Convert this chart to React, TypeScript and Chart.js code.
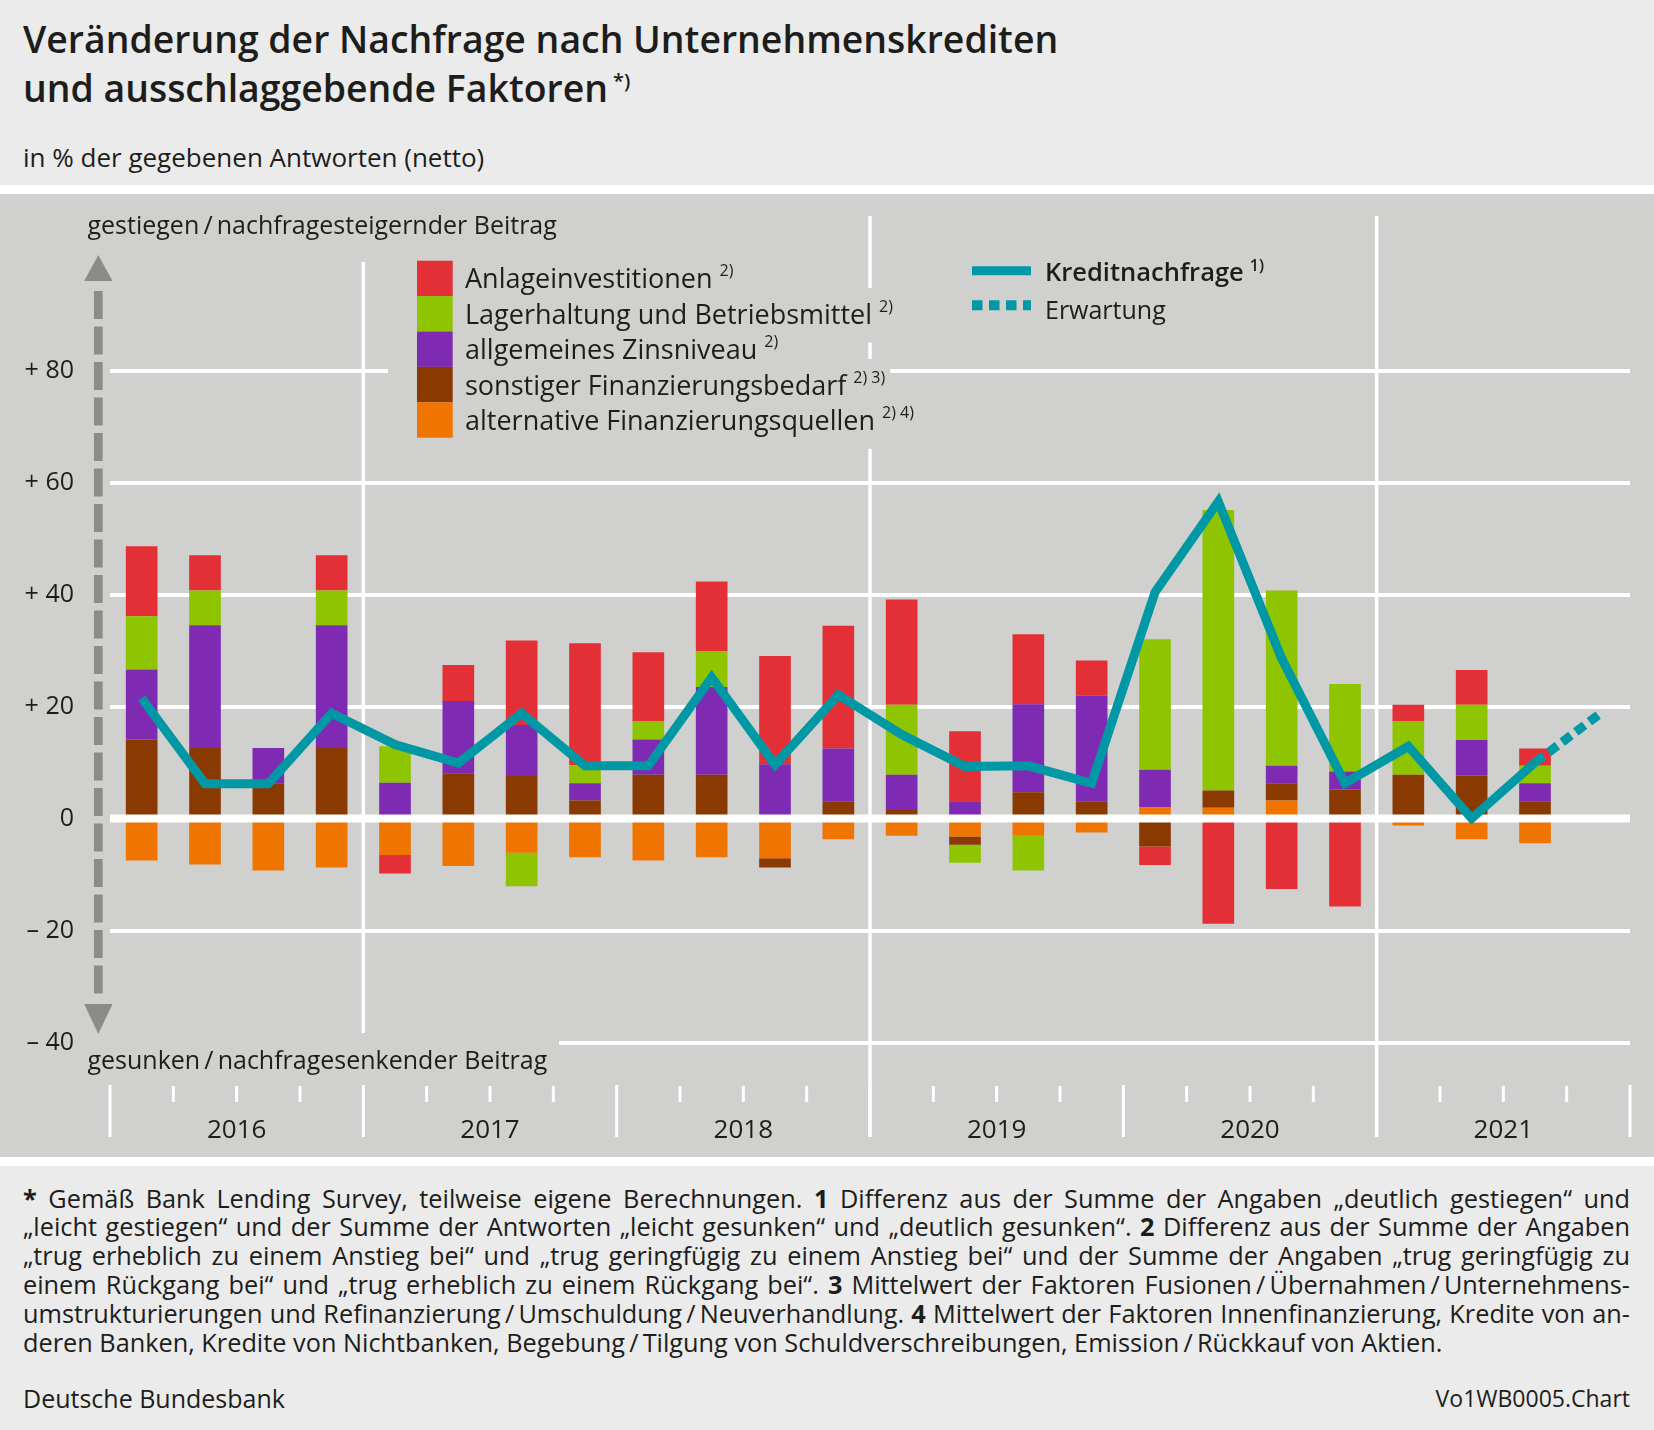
import React, { useEffect, useRef } from 'react';
import { Chart, registerables } from 'chart.js';

Chart.register(...registerables);

// ---------- data ----------
const quarters = [
  '2016 Q1', '2016 Q2', '2016 Q3', '2016 Q4',
  '2017 Q1', '2017 Q2', '2017 Q3', '2017 Q4',
  '2018 Q1', '2018 Q2', '2018 Q3', '2018 Q4',
  '2019 Q1', '2019 Q2', '2019 Q3', '2019 Q4',
  '2020 Q1', '2020 Q2', '2020 Q3', '2020 Q4',
  '2021 Q1', '2021 Q2', '2021 Q3', '2021 Q4',
];
const years = ['2016', '2017', '2018', '2019', '2020', '2021'];
const yTickValues = [-40, -20, 0, 20, 40, 60, 80];

const seriesNames = [
  'alternative Finanzierungsquellen',
  'sonstiger Finanzierungsbedarf',
  'allgemeines Zinsniveau',
  'Lagerhaltung und Betriebsmittel',
  'Anlageinvestitionen',
];
const seriesNotes = ['2) 4)', '2) 3)', '2)', '2)', '2)'];
const lineNames = ['Kreditnachfrage', 'Erwartung'];

const alternativeQuellen = [-7.5, -8.2, -9.3, -8.75, -6.5, -8.5, -6.1, -6.9, -7.5, -6.9, -7.1, -3.7, -3.1, -3.2, -3.1, -2.5, 2.0, 1.9, 3.2, 0, -1.25, -3.7, -4.4, null];
const sonstigerBedarf = [14.1, 12.6, 6.3, 12.6, 0, 8.1, 7.6, 3.2, 7.8, 7.8, -1.65, 3.1, 1.5, -1.5, 4.7, 3.1, -5.0, 3.1, 3.1, 5.2, 7.8, 7.7, 3.1, null];
const zinsniveau = [12.5, 21.9, 6.3, 21.9, 6.4, 12.9, 9.1, 3.1, 6.3, 15.7, 9.7, 9.4, 6.3, 3.1, 15.7, 18.8, 6.7, 0, 3.1, 3.2, 0, 6.3, 3.2, null];
const lagerhaltung = [9.5, 6.2, 0, 6.2, 6.5, 0, -6.0, 3.2, 3.2, 6.3, 0, 0, 12.5, -3.2, -6.2, 0, 23.3, 50.1, 31.3, 15.6, 9.5, 6.3, 3.1, null];
const anlageinvestitionen = [12.5, 6.3, 0, 6.3, -3.3, 6.4, 15.1, 21.8, 12.4, 12.5, 19.3, 21.9, 18.8, 12.5, 12.5, 6.3, -3.3, -18.8, -12.6, -15.7, 3.0, 6.2, 3.1, null];

const kreditnachfrage = [21.5, 6.2, 6.2, 18.8, 13.2, 9.9, 18.8, 9.4, 9.4, 25.2, 9.6, 22.1, 15.0, 9.3, 9.4, 6.3, 40.4, 56.6, 28.6, 6.3, 12.9, 0, 10.0, null];
const erwartung = [null, null, null, null, null, null, null, null, null, null, null, null, null, null, null, null, null, null, null, null, null, null, 10.0, 18.5];

// ---------- styles ----------
const FONT = "'Open Sans', sans-serif";
const TEXT = '#1d1d1b';
const WHITE = '#ffffff';
const PLOT_BG = '#d0d0ce';
const PAGE_BG = '#ebebeb';
const ARROW = '#8b8b89';
const TEAL = '#0098a5';
const barColors = ['#ef7400', '#8a3a00', '#7f2ab3', '#8fc400', '#e33036'];

const fmtTick = (v: number) => (v > 0 ? '+ ' + v : v < 0 ? '\u2013 ' + -v : '0');

const decorPlugin = {
  id: 'decor',
  beforeDatasetsDraw(chart: any) {
    const { ctx } = chart;
    const xs = chart.scales.x;
    const step = xs.getPixelForValue(1) - xs.getPixelForValue(0);
    const edge = (i: number) => xs.getPixelForValue(i) - step / 2;
    ctx.save();
    // knockout behind lower annotation
    ctx.fillStyle = PLOT_BG;
    ctx.fillRect(84, 839, 475, 48);

    ctx.strokeStyle = WHITE;
    ctx.lineCap = 'butt';
    // tick marks
    for (let i = 0; i <= quarters.length; i++) {
      const xx = edge(i);
      ctx.lineWidth = 3;
      ctx.beginPath();
      if (i % 4 === 0) {
        ctx.moveTo(xx, 891);
        ctx.lineTo(xx, 943);
      } else {
        ctx.moveTo(xx, 892);
        ctx.lineTo(xx, 908);
      }
      ctx.stroke();
    }
    // long separators every two years
    ctx.lineWidth = 3.5;
    [4, 12, 20].forEach((i) => {
      const xx = edge(i);
      ctx.beginPath();
      if (i === 4) {
        ctx.moveTo(xx, 68);
        ctx.lineTo(xx, 839);
      } else {
        ctx.moveTo(xx, 22);
        ctx.lineTo(xx, 943);
      }
      ctx.stroke();
    });

    // year labels
    ctx.fillStyle = TEXT;
    ctx.font = `400 26px ${FONT}`;
    ctx.textAlign = 'center';
    ctx.textBaseline = 'alphabetic';
    years.forEach((yr, j) => {
      const cx = (edge(4 * j) + edge(4 * j + 4)) / 2;
      ctx.fillText(yr, cx, 944);
    });

    // arrow
    ctx.fillStyle = ARROW;
    ctx.beginPath();
    ctx.moveTo(98.3, 61);
    ctx.lineTo(112.5, 87);
    ctx.lineTo(84.2, 87);
    ctx.closePath();
    ctx.fill();
    ctx.beginPath();
    ctx.moveTo(98.3, 840);
    ctx.lineTo(112.5, 810);
    ctx.lineTo(84.2, 810);
    ctx.closePath();
    ctx.fill();
    ctx.strokeStyle = ARROW;
    ctx.lineWidth = 8.7;
    ctx.setLineDash([28, 7.5]);
    ctx.beginPath();
    ctx.moveTo(98.3, 97);
    ctx.lineTo(98.3, 806);
    ctx.stroke();
    ctx.setLineDash([]);

    // annotations
    ctx.fillStyle = TEXT;
    ctx.textAlign = 'left';
    ctx.font = `400 25px ${FONT}`;
    ctx.fillText('gestiegen\u2009/\u2009nachfragesteigernder Beitrag', 87.5, 39.5);
    ctx.fillText('gesunken\u2009/\u2009nachfragesenkender Beitrag', 87.5, 874.5);
    ctx.restore();
  },
  afterDatasetDraw(chart: any, args: any) {
    if (args.index !== 0) return;
    const { ctx, chartArea } = chart;
    const y0 = chart.scales.y.getPixelForValue(0);
    ctx.save();
    ctx.strokeStyle = WHITE;
    ctx.lineWidth = 8;
    ctx.beginPath();
    ctx.moveTo(chartArea.left, y0);
    ctx.lineTo(chartArea.right, y0);
    ctx.stroke();
    ctx.restore();
  },
  afterDatasetsDraw(chart: any) {
    const { ctx } = chart;
    const ds = chart.data.datasets;
    ctx.save();
    // bar legend (top to bottom: reverse stacking order)
    const rows = [4, 3, 2, 1, 0];
    const rowH = 35.4;
    const top0 = 66.7;
    const mainFont = `400 27px ${FONT}`;
    const supFont = `400 16px ${FONT}`;
    const widths: number[] = [];
    rows.forEach((di) => {
      ctx.font = mainFont;
      const w = ctx.measureText(ds[di].label).width;
      ctx.font = supFont;
      const ws = ctx.measureText(seriesNotes[di]).width;
      widths.push(w + 7 + ws);
    });
    ctx.fillStyle = PLOT_BG;
    rows.forEach((di, r) => {
      const t = top0 + r * rowH;
      ctx.fillRect(388, t - 8, 465 + widths[r] + 5 - 388, rowH + 19);
    });
    rows.forEach((di, r) => {
      const t = top0 + r * rowH;
      ctx.fillStyle = barColors[di];
      ctx.fillRect(417, t, 35.7, rowH);
      ctx.fillStyle = TEXT;
      ctx.font = mainFont;
      ctx.textAlign = 'left';
      ctx.textBaseline = 'alphabetic';
      const base = t + 27.6;
      ctx.fillText(ds[di].label, 465, base);
      const w = ctx.measureText(ds[di].label).width;
      ctx.font = supFont;
      ctx.fillText(seriesNotes[di], 465 + w + 7, base - 12);
    });

    // line legend
    ctx.strokeStyle = TEAL;
    ctx.lineCap = 'butt';
    ctx.lineWidth = 9;
    ctx.beginPath();
    ctx.moveTo(972, 76.7);
    ctx.lineTo(1031, 76.7);
    ctx.stroke();
    ctx.lineWidth = 10;
    ctx.setLineDash([10.5, 6.5]);
    ctx.beginPath();
    ctx.moveTo(972, 111.3);
    ctx.lineTo(1031, 111.3);
    ctx.stroke();
    ctx.setLineDash([]);
    ctx.fillStyle = TEXT;
    ctx.font = `600 25.5px ${FONT}`;
    ctx.fillText(ds[5].label, 1045, 87);
    const wk = ctx.measureText(ds[5].label).width;
    ctx.font = `600 16px ${FONT}`;
    ctx.fillText('1)', 1045 + wk + 6, 76.5);
    ctx.font = `400 25px ${FONT}`;
    ctx.fillText(ds[6].label, 1045, 124.5);
    ctx.restore();
  },
};

export default function App() {
  const ref = useRef<HTMLCanvasElement | null>(null);

  useEffect(() => {
    if (!ref.current) return;
    const barSets = [alternativeQuellen, sonstigerBedarf, zinsniveau, lagerhaltung, anlageinvestitionen].map((d, i) => ({
      type: 'bar' as const,
      label: seriesNames[i],
      data: d,
      backgroundColor: barColors[i],
      borderWidth: 0,
      barPercentage: 0.5,
      categoryPercentage: 1,
      order: 1,
    }));
    const chart = new Chart(ref.current, {
      type: 'bar',
      data: {
        labels: quarters,
        datasets: [
          ...barSets,
          {
            type: 'line' as const,
            label: lineNames[0],
            data: kreditnachfrage,
            borderColor: TEAL,
            borderWidth: 9,
            pointRadius: 0,
            tension: 0,
            fill: false,
            stack: 'kn',
            order: 0,
            borderJoinStyle: 'miter',
            borderCapStyle: 'butt',
          },
          {
            type: 'line' as const,
            label: lineNames[1],
            data: erwartung,
            borderColor: TEAL,
            borderWidth: 9,
            borderDash: [11, 6],
            pointRadius: 0,
            tension: 0,
            fill: false,
            stack: 'erw',
            order: 0,
            borderCapStyle: 'butt',
          },
        ] as any,
      },
      options: {
        animation: false,
        responsive: false,
        maintainAspectRatio: false,
        events: [],
        layout: { padding: { left: 0, right: 24, top: 64.5, bottom: 0 } },
        plugins: { legend: { display: false }, tooltip: { enabled: false } },
        scales: {
          x: {
            stacked: true,
            offset: true,
            grid: { display: false },
            border: { display: false },
            ticks: { display: false },
            afterFit: (s: any) => {
              s.height = 114.5;
            },
          },
          y: {
            stacked: true,
            min: -40,
            max: 100,
            afterBuildTicks: (s: any) => {
              s.ticks = yTickValues.map((v) => ({ value: v }));
            },
            afterFit: (s: any) => {
              s.width = 110;
            },
            grid: {
              color: (c: any) => (c.tick && c.tick.value === 0 ? 'rgba(0,0,0,0)' : WHITE),
              lineWidth: 4,
              drawTicks: false,
            },
            border: { display: false },
            ticks: {
              padding: 36,
              color: TEXT,
              font: { family: FONT, size: 25, weight: '400' },
              callback: (v: any) => fmtTick(Number(v)),
            },
          },
        },
      } as any,
      plugins: [decorPlugin as any],
    });
    return () => chart.destroy();
  }, []);

  const line: React.CSSProperties = { textAlign: 'justify', textAlignLast: 'justify', whiteSpace: 'nowrap' };
  const sl = '\u2009/\u2009';

  return (
    <div
      style={{
        position: 'absolute',
        left: 0,
        top: 0,
        width: 1654,
        height: 1430,
        background: PAGE_BG,
        fontFamily: FONT,
        color: TEXT,
        overflow: 'hidden',
      }}
    >
      <div style={{ position: 'absolute', left: 23, top: 14, fontSize: 37.4, fontWeight: 600, lineHeight: '49px', whiteSpace: 'nowrap' }}>
        Veränderung der Nachfrage nach Unternehmenskrediten
        <br />
        und ausschlaggebende Faktoren
        <span style={{ fontSize: 20, position: 'relative', top: -14, marginLeft: 5 }}>*)</span>
      </div>
      <div style={{ position: 'absolute', left: 23, top: 139, fontSize: 26, lineHeight: '36px', whiteSpace: 'nowrap' }}>
        in % der gegebenen Antworten (netto)
      </div>
      <div style={{ position: 'absolute', left: 0, top: 185, width: 1654, height: 9, background: WHITE }} />
      <div style={{ position: 'absolute', left: 0, top: 194, width: 1654, height: 963, background: PLOT_BG }} />
      <canvas ref={ref} width={1654} height={963} style={{ position: 'absolute', left: 0, top: 194, width: 1654, height: 963 }} />
      <div style={{ position: 'absolute', left: 0, top: 1157, width: 1654, height: 9, background: WHITE }} />
      <div style={{ position: 'absolute', left: 23, top: 1183.5, width: 1607, fontSize: 25.3, lineHeight: '28.9px' }}>
        <div style={line}>
          <b>*</b> Gemäß Bank Lending Survey, teilweise eigene Berechnungen. <b>1</b> Differenz aus der Summe der Angaben „deutlich gestiegen“ und
        </div>
        <div style={line}>
          „leicht gestiegen“ und der Summe der Antworten „leicht gesunken“ und „deutlich gesunken“. <b>2</b> Differenz aus der Summe der Angaben
        </div>
        <div style={line}>
          „trug erheblich zu einem Anstieg bei“ und „trug geringfügig zu einem Anstieg bei“ und der Summe der Angaben „trug geringfügig zu
        </div>
        <div style={line}>
          einem Rückgang bei“ und „trug erheblich zu einem Rückgang bei“. <b>3</b> Mittelwert der Faktoren Fusionen{sl}Übernahmen{sl}Unternehmens-
        </div>
        <div style={line}>
          umstrukturierungen und Refinanzierung{sl}Umschuldung{sl}Neuverhandlung. <b>4</b> Mittelwert der Faktoren Innenfinanzierung, Kredite von an-
        </div>
        <div style={{ whiteSpace: 'nowrap' }}>
          deren Banken, Kredite von Nichtbanken, Begebung{sl}Tilgung von Schuldverschreibungen, Emission{sl}Rückkauf von Aktien.
        </div>
      </div>
      <div style={{ position: 'absolute', left: 23, top: 1384, fontSize: 25, lineHeight: '28.9px', whiteSpace: 'nowrap' }}>Deutsche Bundesbank</div>
      <div style={{ position: 'absolute', right: 24, top: 1384, fontSize: 23, lineHeight: '28.9px', whiteSpace: 'nowrap' }}>Vo1WB0005.Chart</div>
    </div>
  );
}
